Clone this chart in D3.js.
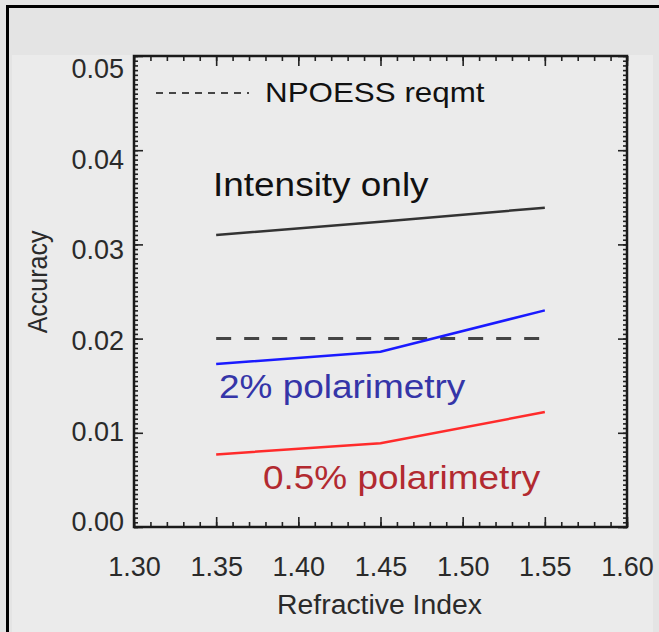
<!DOCTYPE html>
<html>
<head>
<meta charset="utf-8">
<script src="https://cdn.jsdelivr.net/npm/d3@7"></script>
<style>
  body { margin: 0; background: #e4e4e4; }
  svg { display: block; }
  text { font-family: "Liberation Sans", Arial, sans-serif; }
</style>
</head>
<body>
<div id="chart"></div>
<script>
// values
const refractiveIndex = [1.35, 1.45, 1.55];
const intensityOnly = [0.0310, 0.0324, 0.0339];
const polarimetry2 = [0.0173, 0.0186, 0.0230];
const polarimetry05 = [0.0077, 0.0089, 0.0122];
const npoessReqmt = 0.02;
const npoessRange = [1.35, 1.55];
const xTicks = [1.30, 1.35, 1.40, 1.45, 1.50, 1.55, 1.60];
const yTicks = [0.00, 0.01, 0.02, 0.03, 0.04, 0.05];

const width = 659, height = 632;
var margin = { top: 56, right: 32, bottom: 105, left: 134 },
  x0 = margin.left,
  x1 = width - margin.right,
  y0 = margin.top,
  y1 = height - margin.bottom;
const stretch = 1.12; // annotation text in the picture is a bit wide

var svg = d3.select("#chart").append("svg")
  .attr("width", width)
  .attr("height", height);

// backdrop + black frame on top/left
svg.append("rect").attr("x", 12).attr("y", 55).attr("width", 641).attr("height", height - 55).attr("fill", "#ebebeb");
svg.append("path").attr("d", "M7.5," + height + "V6.5H" + width)
  .attr("fill", "none").attr("stroke", "#000").attr("stroke-width", 3);

var x = d3.scaleLinear().domain([1.30, 1.60]).range([x0, x1]);
var y = d3.scaleLinear().domain([0, 0.05]).range([y1, y0]);
// tick labels sit slightly inside the tick positions in the picture
var yLabel = d3.scaleLinear().domain([0, 0.05]).range([y1 - 5, y0 + 13]);

var xMinor = d3.range(1.30, 1.6001, 0.01);
var yMinor = d3.range(0, 0.05001, 0.0005);

function ticks(axis) {
  return function (g) {
    g.call(axis);
    g.select(".domain").remove();
    g.selectAll("line").attr("stroke", "#222").attr("stroke-width", 1.6);
  };
}

// minor + major ticks on all four sides, pointing inward
svg.append("g").attr("transform", "translate(0," + y1 + ")")
  .call(ticks(d3.axisBottom(x).tickValues(xMinor).tickSize(-5).tickFormat("")));
svg.append("g").attr("transform", "translate(0," + y1 + ")")
  .call(ticks(d3.axisBottom(x).tickValues(xTicks).tickSize(-10).tickFormat("")));
svg.append("g").attr("transform", "translate(0," + y0 + ")")
  .call(ticks(d3.axisTop(x).tickValues(xMinor).tickSize(-5).tickFormat("")));
svg.append("g").attr("transform", "translate(0," + y0 + ")")
  .call(ticks(d3.axisTop(x).tickValues(xTicks).tickSize(-10).tickFormat("")));
svg.append("g").attr("transform", "translate(" + x0 + ",0)")
  .call(ticks(d3.axisLeft(y).tickValues(yMinor).tickSize(-4).tickFormat("")));
svg.append("g").attr("transform", "translate(" + x0 + ",0)")
  .call(ticks(d3.axisLeft(y).tickValues(yTicks).tickSize(-9).tickFormat("")));
svg.append("g").attr("transform", "translate(" + x1 + ",0)")
  .call(ticks(d3.axisRight(y).tickValues(yMinor).tickSize(-4).tickFormat("")));
svg.append("g").attr("transform", "translate(" + x1 + ",0)")
  .call(ticks(d3.axisRight(y).tickValues(yTicks).tickSize(-9).tickFormat("")));

// tick labels
var gx = svg.append("g").attr("transform", "translate(0," + y1 + ")")
  .call(d3.axisBottom(x).tickValues(xTicks).tickSize(0).tickPadding(30).tickFormat(d3.format(".2f")));
gx.select(".domain").remove();
gx.selectAll("text").attr("font-size", 27).attr("fill", "#2a2a2a")
  .attr("font-family", "Liberation Sans, Arial, sans-serif");

var gy = svg.append("g").attr("transform", "translate(" + x0 + ",0)")
  .call(d3.axisLeft(yLabel).tickValues(yTicks).tickSize(0).tickPadding(10).tickFormat(d3.format(".2f")));
gy.select(".domain").remove();
gy.selectAll("text").attr("font-size", 27).attr("fill", "#2a2a2a")
  .attr("font-family", "Liberation Sans, Arial, sans-serif");

// plot box
svg.append("rect").attr("x", x0).attr("y", y0).attr("width", x1 - x0).attr("height", y1 - y0)
  .attr("fill", "none").attr("stroke", "#1a1a1a").attr("stroke-width", 2.5);

// axis titles
svg.append("text")
  .attr("transform", "translate(" + ((x0 + x1) / 2 - 1) + ",614) scale(1.05,1)")
  .attr("text-anchor", "middle").attr("font-size", 27).attr("fill", "#2a2a2a")
  .text("Refractive Index");
svg.append("text")
  .attr("transform", "translate(47,282) rotate(-90) scale(1,1.1)")
  .attr("text-anchor", "middle").attr("font-size", 25).attr("fill", "#2a2a2a")
  .text("Accuracy");

// requirement line
svg.append("line")
  .attr("x1", x(npoessRange[0])).attr("x2", x(npoessRange[1]))
  .attr("y1", y(npoessReqmt)).attr("y2", y(npoessReqmt))
  .attr("stroke", "#444").attr("stroke-width", 3).attr("stroke-dasharray", "15,13");

var line = d3.line()
  .x(function (d, i) { return x(refractiveIndex[i]); })
  .y(function (d) { return y(d); });

var series = [
  { values: intensityOnly, color: "#333" },
  { values: polarimetry2, color: "#1a1aff" },
  { values: polarimetry05, color: "#ff2b2b" },
];
series.forEach(function (s) {
  svg.append("path").datum(s.values)
    .attr("d", line)
    .attr("fill", "none").attr("stroke", s.color).attr("stroke-width", 2.5);
});

// legend for dashed line
svg.append("line").attr("x1", 156).attr("x2", 249).attr("y1", 93).attr("y2", 93)
  .attr("stroke", "#111").attr("stroke-width", 1.6).attr("stroke-dasharray", "7,6");

function label(txt, px, py, size, color) {
  svg.append("text")
    .attr("transform", "translate(" + px + "," + py + ") scale(" + stretch + ",1)")
    .attr("font-size", size).attr("fill", color)
    .text(txt);
}
label("NPOESS reqmt", 265, 102, 28, "#111");
label("Intensity only", 213, 196, 33, "#111");
label("2% polarimetry", 219, 398, 33, "#3535a8");
label("0.5% polarimetry", 263, 489, 33, "#b22a30");
</script>
</body>
</html>
